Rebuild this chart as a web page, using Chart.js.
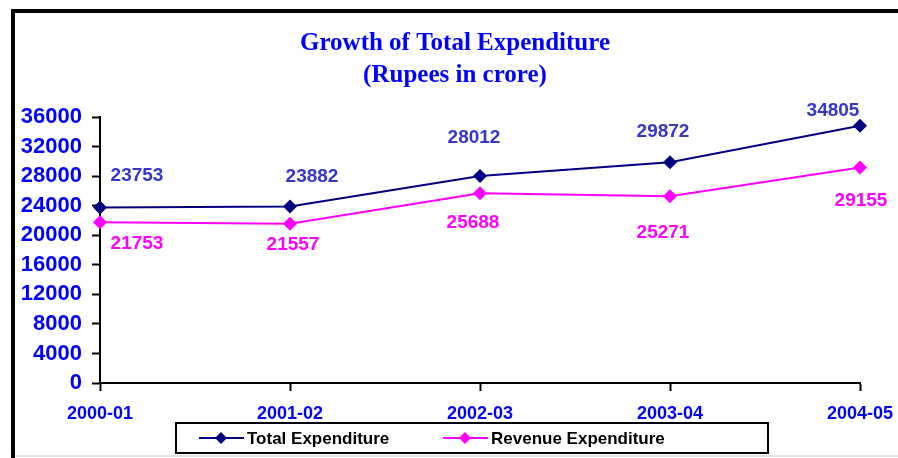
<!DOCTYPE html>
<html>
<head>
<meta charset="utf-8">
<script src="https://cdn.jsdelivr.net/npm/chart.js@4.4.0/dist/chart.umd.min.js"></script>
<style>
  html, body { margin: 0; padding: 0; background: #fff; }
  #wrap { width: 898px; height: 458px; position: relative; }
</style>
</head>
<body>
<div id="wrap"><canvas id="chartCanvas" width="898" height="458"></canvas></div>
<script>
// Data
const years = ["2000-01", "2001-02", "2002-03", "2003-04", "2004-05"];
const totalExpenditure = [23753, 23882, 28012, 29872, 34805];
const revenueExpenditure = [21753, 21557, 25688, 25271, 29155];
const yTicks = [0, 4000, 8000, 12000, 16000, 20000, 24000, 28000, 32000, 36000];

// label offsets from each point (px) - as placed in the original
const totalLabelOffsets = [[37, -32], [22, -30], [-6, -38], [-7, -31], [-27, -15]];
const revenueLabelOffsets = [[37, 21], [3, 21], [-7, 30], [-7, 36], [1, 33]];

const NAVY = "#000080";
const MAGENTA = "#FF00FF";
const BLUE = "#0000FF";
const SANS = "'Liberation Sans', Arial, sans-serif";

// frame, title, point labels and legend
const decorPlugin = {
  id: "decor",
  beforeDraw(chart) {
    const c = chart.ctx;
    c.save();
    c.fillStyle = "#fff";
    c.fillRect(0, 0, chart.width, chart.height);
    // outer frame (cut off at right like the original)
    c.strokeStyle = "#000";
    c.lineWidth = 4;
    c.beginPath();
    c.moveTo(13, 458);
    c.lineTo(13, 11);
    c.lineTo(898, 11);
    c.stroke();
    c.strokeStyle = "#e4e4e4";
    c.lineWidth = 2;
    c.beginPath();
    c.moveTo(15, 456);
    c.lineTo(898, 456);
    c.stroke();
    // title
    c.fillStyle = BLUE;
    c.font = "bold 25px 'Liberation Serif', 'Times New Roman', serif";
    c.textAlign = "center";
    c.textBaseline = "middle";
    c.fillText("Growth of Total Expenditure", 455, 44);
    c.fillText("(Rupees in crore)", 455, 76);
    c.restore();
  },
  afterDatasetsDraw(chart) {
    const c = chart.ctx;
    c.save();
    c.font = "bold 19px " + SANS;
    c.textAlign = "center";
    c.textBaseline = "middle";
    const sets = [
      { idx: 0, vals: totalExpenditure, offs: totalLabelOffsets, color: "#3636C8" },
      { idx: 1, vals: revenueExpenditure, offs: revenueLabelOffsets, color: MAGENTA },
    ];
    sets.forEach((s) => {
      const meta = chart.getDatasetMeta(s.idx);
      c.fillStyle = s.color;
      meta.data.forEach((pt, i) => {
        c.fillText(String(s.vals[i]), pt.x + s.offs[i][0], pt.y + s.offs[i][1]);
      });
    });

    // legend
    c.strokeStyle = "#000";
    c.lineWidth = 2;
    c.strokeRect(176, 423, 592, 30);
    const items = [
      { x: 199, label: "Total Expenditure", color: NAVY },
      { x: 443, label: "Revenue Expenditure", color: MAGENTA },
    ];
    const ly = 438;
    items.forEach((it) => {
      c.strokeStyle = it.color;
      c.lineWidth = 2;
      c.beginPath();
      c.moveTo(it.x, ly);
      c.lineTo(it.x + 45, ly);
      c.stroke();
      c.fillStyle = it.color;
      c.beginPath();
      c.moveTo(it.x + 22, ly - 6);
      c.lineTo(it.x + 28, ly);
      c.lineTo(it.x + 22, ly + 6);
      c.lineTo(it.x + 16, ly);
      c.closePath();
      c.fill();
      c.fillStyle = "#000";
      c.textAlign = "left";
      c.font = "bold 17px " + SANS;
      c.fillText(it.label, it.x + 48, ly + 1);
    });
    c.restore();
  },
};

const ctx = document.getElementById("chartCanvas").getContext("2d");
const chart = new Chart(ctx, {
  type: "line",
  data: {
    labels: years,
    datasets: [
      {
        label: "Total Expenditure",
        data: totalExpenditure,
        borderColor: NAVY,
        backgroundColor: NAVY,
        borderWidth: 2,
        pointStyle: "rectRot",
        pointRadius: 7,
        pointBorderWidth: 0,
        tension: 0,
      },
      {
        label: "Revenue Expenditure",
        data: revenueExpenditure,
        borderColor: MAGENTA,
        backgroundColor: MAGENTA,
        borderWidth: 2,
        pointStyle: "rectRot",
        pointRadius: 7,
        pointBorderWidth: 0,
        tension: 0,
      },
    ],
  },
  options: {
    responsive: false,
    animation: false,
    layout: { padding: { left: 0, right: 38, top: 117, bottom: 0 } },
    plugins: {
      legend: { display: false },
      title: { display: false },
      tooltip: { enabled: false },
    },
    scales: {
      x: {
        offset: false,
        grid: { display: true, drawOnChartArea: false, drawTicks: true, tickLength: 8, color: "#000", tickWidth: 2 },
        border: { color: "#000", width: 2 },
        ticks: {
          color: BLUE,
          padding: 12,
          maxRotation: 0,
          autoSkip: false,
          font: { family: SANS, size: 18, weight: "bold" },
        },
        afterFit(scale) {
          scale.height = 75;
          scale.paddingLeft = 0;
          scale.paddingRight = 0;
        },
      },
      y: {
        min: 0,
        max: 36000,
        afterBuildTicks(scale) { scale.ticks = yTicks.map((v) => ({ value: v })); },
        grid: { display: true, drawOnChartArea: false, drawTicks: true, tickLength: 8, color: "#000", tickWidth: 2 },
        border: { color: "#000", width: 2 },
        ticks: {
          color: BLUE,
          padding: 10,
          callback: (v) => String(v),
          font: { family: SANS, size: 22, weight: "bold" },
        },
        afterFit(scale) { scale.width = 100; },
      },
    },
  },
  plugins: [decorPlugin],
});
</script>
</body>
</html>
